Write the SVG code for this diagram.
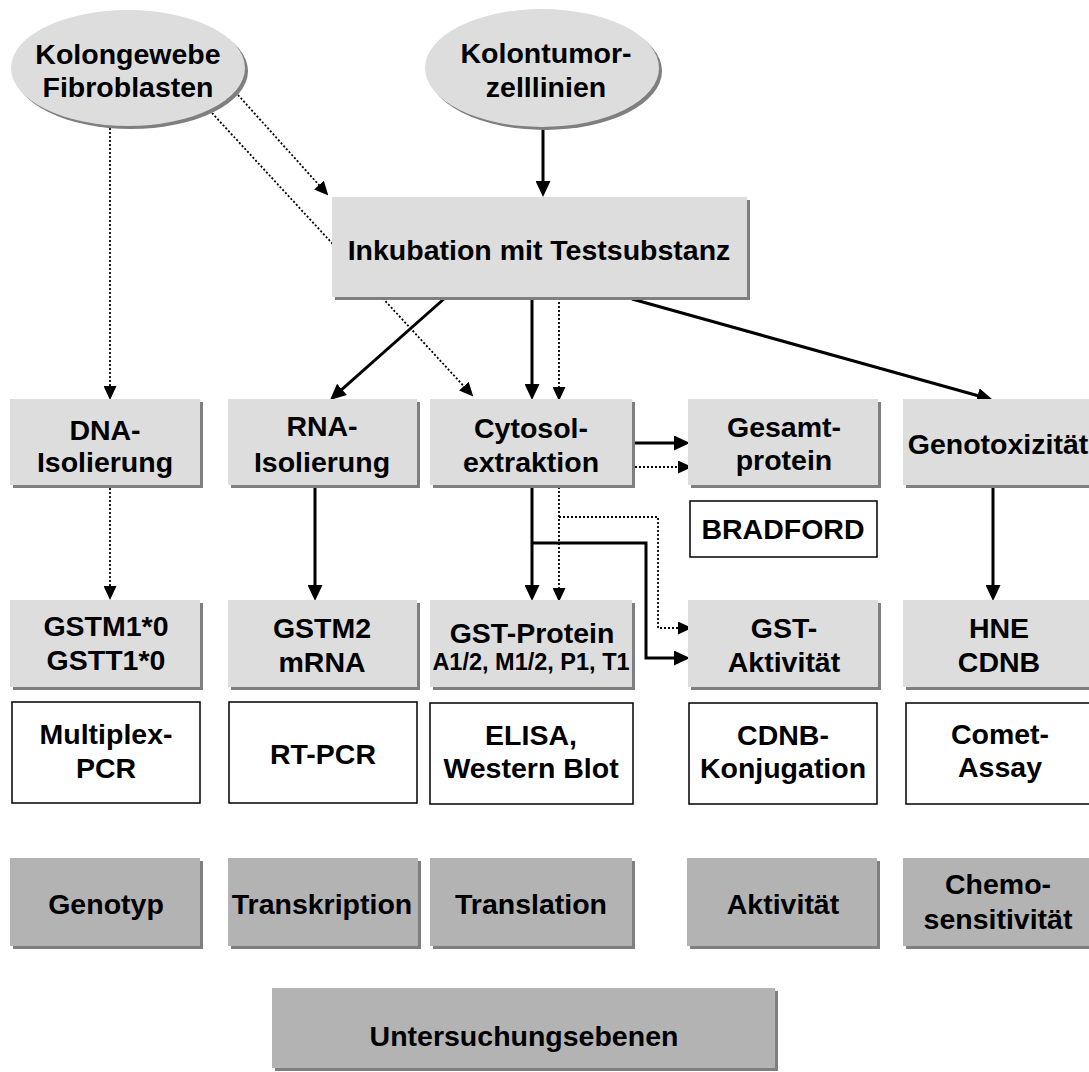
<svg xmlns="http://www.w3.org/2000/svg" width="1089" height="1072" viewBox="0 0 1089 1072">
<style>
text{font-family:"Liberation Sans",Arial,sans-serif;font-weight:bold;font-size:28.5px;fill:#000;text-anchor:middle}
.sm{font-size:23.5px}
.sh{fill:#7f7f7f}
.lt{fill:#dddddd}
.dk{fill:#b3b3b3}
.wt{fill:#fff;stroke:#000;stroke-width:1.5}
.s{fill:none;stroke:#000;stroke-width:3}
.d{fill:none;stroke:#000;stroke-width:1.8;stroke-dasharray:2 2}
</style>
<defs>
<marker id="as" viewBox="0 0 16 15" refX="8" refY="7.5" markerWidth="16" markerHeight="15" markerUnits="userSpaceOnUse" orient="auto"><path d="M0,0 L16,7.5 L0,15 z" fill="#000"/></marker>
<marker id="ad" viewBox="0 0 14 13" refX="6" refY="6.5" markerWidth="14" markerHeight="13" markerUnits="userSpaceOnUse" orient="auto"><path d="M0,0 L14,6.5 L0,13 z" fill="#000"/></marker>
</defs>
<rect width="1089" height="1072" fill="#fff"/>
<g id="connectors">
<line class="s" x1="543" y1="127" x2="543" y2="189" marker-end="url(#as)"/>
<line class="d" x1="238" y1="95" x2="323" y2="189.5" marker-end="url(#ad)"/>
<line class="d" x1="212" y1="113" x2="467.9" y2="390.6" marker-end="url(#ad)"/>
<line class="d" x1="110" y1="128" x2="110" y2="392" marker-end="url(#ad)"/>
<line class="d" x1="110" y1="488" x2="110" y2="592" marker-end="url(#ad)"/>
<line class="s" x1="445" y1="298" x2="336" y2="394.7" marker-end="url(#as)"/>
<line class="s" x1="532" y1="298" x2="532" y2="392" marker-end="url(#as)"/>
<line class="d" x1="559" y1="298" x2="559" y2="393" marker-end="url(#ad)"/>
<line class="s" x1="632" y1="299" x2="985.3" y2="397.8" marker-end="url(#as)"/>
<line class="s" x1="632" y1="443" x2="682" y2="443" marker-end="url(#as)"/>
<line class="d" x1="635" y1="467" x2="684" y2="467" marker-end="url(#ad)"/>
<line class="s" x1="532" y1="487" x2="532" y2="593" marker-end="url(#as)"/>
<line class="d" x1="559" y1="487" x2="559" y2="594" marker-end="url(#ad)"/>
<polyline class="s" points="532,543 646,543 646,658 682,658" marker-end="url(#as)"/>
<polyline class="d" points="559,517 658,517 658,628 684,628" marker-end="url(#ad)"/>
<line class="s" x1="315" y1="487" x2="315" y2="593" marker-end="url(#as)"/>
<line class="s" x1="993" y1="486" x2="993" y2="593" marker-end="url(#as)"/>
</g>
<g id="kolongewebe">
<ellipse class="sh" cx="131" cy="71" rx="117" ry="58"/>
<ellipse class="lt" cx="128" cy="68" rx="117" ry="58"/>
<text x="128" y="64">Kolongewebe</text>
<text x="128" y="97">Fibroblasten</text>
</g>
<g id="kolontumor">
<ellipse class="sh" cx="545" cy="71" rx="117" ry="59"/>
<ellipse class="lt" cx="542" cy="68" rx="117" ry="59"/>
<text x="546" y="63">Kolontumor-</text>
<text x="546" y="97">zelllinien</text>
</g>
<g id="inkubation">
<rect class="sh" x="335" y="200" width="415" height="100"/>
<rect class="lt" x="332" y="197" width="415" height="100"/>
<text x="539" y="260">Inkubation mit Testsubstanz</text>
</g>
<g id="dna">
<rect class="sh" x="13" y="402" width="190" height="86"/>
<rect class="lt" x="10" y="399" width="190" height="86"/>
<text x="105" y="440">DNA-</text>
<text x="105" y="472">Isolierung</text>
</g>
<g id="rna">
<rect class="sh" x="231" y="402" width="189" height="86"/>
<rect class="lt" x="228" y="399" width="189" height="86"/>
<text x="322" y="436">RNA-</text>
<text x="322" y="472">Isolierung</text>
</g>
<g id="cytosol">
<rect class="sh" x="433" y="402" width="202" height="86"/>
<rect class="lt" x="430" y="399" width="202" height="86"/>
<text x="531" y="438">Cytosol-</text>
<text x="531" y="472">extraktion</text>
</g>
<g id="gesamtprotein">
<rect class="sh" x="691" y="402" width="190" height="86"/>
<rect class="lt" x="688" y="399" width="190" height="86"/>
<text x="784" y="437">Gesamt-</text>
<text x="784" y="470">protein</text>
</g>
<g id="genotox">
<rect class="sh" x="906" y="402" width="192" height="86"/>
<rect class="lt" x="903" y="399" width="192" height="86"/>
<text x="998" y="454">Genotoxizität</text>
</g>
<g id="bradford">
<rect class="wt" x="690" y="501" width="187" height="56"/>
<text x="783" y="539">BRADFORD</text>
</g>
<g id="gstm1">
<rect class="sh" x="13" y="603" width="190" height="87"/>
<rect class="lt" x="10" y="600" width="190" height="87"/>
<text x="106" y="636">GSTM1*0</text>
<text x="106" y="670">GSTT1*0</text>
</g>
<g id="gstm2">
<rect class="sh" x="231" y="603" width="189" height="87"/>
<rect class="lt" x="228" y="600" width="189" height="87"/>
<text x="322" y="638">GSTM2</text>
<text x="322" y="672">mRNA</text>
</g>
<g id="gstprotein">
<rect class="sh" x="433" y="603" width="202" height="87"/>
<rect class="lt" x="430" y="600" width="202" height="87"/>
<text x="532" y="643">GST-Protein</text>
<text class="sm" x="531" y="670">A1/2, M1/2, P1, T1</text>
</g>
<g id="gstaktivitaet">
<rect class="sh" x="691" y="603" width="190" height="87"/>
<rect class="lt" x="688" y="600" width="190" height="87"/>
<text x="784" y="638">GST-</text>
<text x="784" y="672">Aktivität</text>
</g>
<g id="hne">
<rect class="sh" x="906" y="603" width="192" height="87"/>
<rect class="lt" x="903" y="600" width="192" height="87"/>
<text x="999" y="638">HNE</text>
<text x="999" y="672">CDNB</text>
</g>
<g id="multiplex">
<rect class="wt" x="12" y="702" width="188" height="101"/>
<text x="106" y="744">Multiplex-</text>
<text x="106" y="778">PCR</text>
</g>
<g id="rtpcr">
<rect class="wt" x="229" y="702" width="188" height="101"/>
<text x="323" y="764">RT-PCR</text>
</g>
<g id="elisa">
<rect class="wt" x="430" y="703" width="203" height="101"/>
<text x="531" y="745">ELISA,</text>
<text x="531" y="778">Western Blot</text>
</g>
<g id="cdnb">
<rect class="wt" x="689" y="703" width="188" height="101"/>
<text x="783" y="745">CDNB-</text>
<text x="783" y="778">Konjugation</text>
</g>
<g id="comet">
<rect class="wt" x="906" y="703" width="190" height="101"/>
<text x="1000" y="744">Comet-</text>
<text x="1000" y="777">Assay</text>
</g>
<g id="genotyp">
<rect class="sh" x="13" y="861" width="190" height="88"/>
<rect class="dk" x="10" y="858" width="190" height="88"/>
<text x="106" y="914">Genotyp</text>
</g>
<g id="transkription">
<rect class="sh" x="231" y="861" width="190" height="88"/>
<rect class="dk" x="228" y="858" width="190" height="88"/>
<text x="322" y="914">Transkription</text>
</g>
<g id="translation">
<rect class="sh" x="433" y="861" width="202" height="88"/>
<rect class="dk" x="430" y="858" width="202" height="88"/>
<text x="531" y="914">Translation</text>
</g>
<g id="aktivitaet">
<rect class="sh" x="690" y="861" width="190" height="88"/>
<rect class="dk" x="687" y="858" width="190" height="88"/>
<text x="783" y="914">Aktivität</text>
</g>
<g id="chemosensitivitaet">
<rect class="sh" x="906" y="861" width="192" height="88"/>
<rect class="dk" x="903" y="858" width="192" height="88"/>
<text x="998" y="894">Chemo-</text>
<text x="998" y="929">sensitivität</text>
</g>
<g id="untersuchungsebenen">
<rect class="sh" x="275" y="991" width="503" height="80"/>
<rect class="dk" x="272" y="988" width="503" height="80"/>
<text x="524" y="1046">Untersuchungsebenen</text>
</g>
</svg>
